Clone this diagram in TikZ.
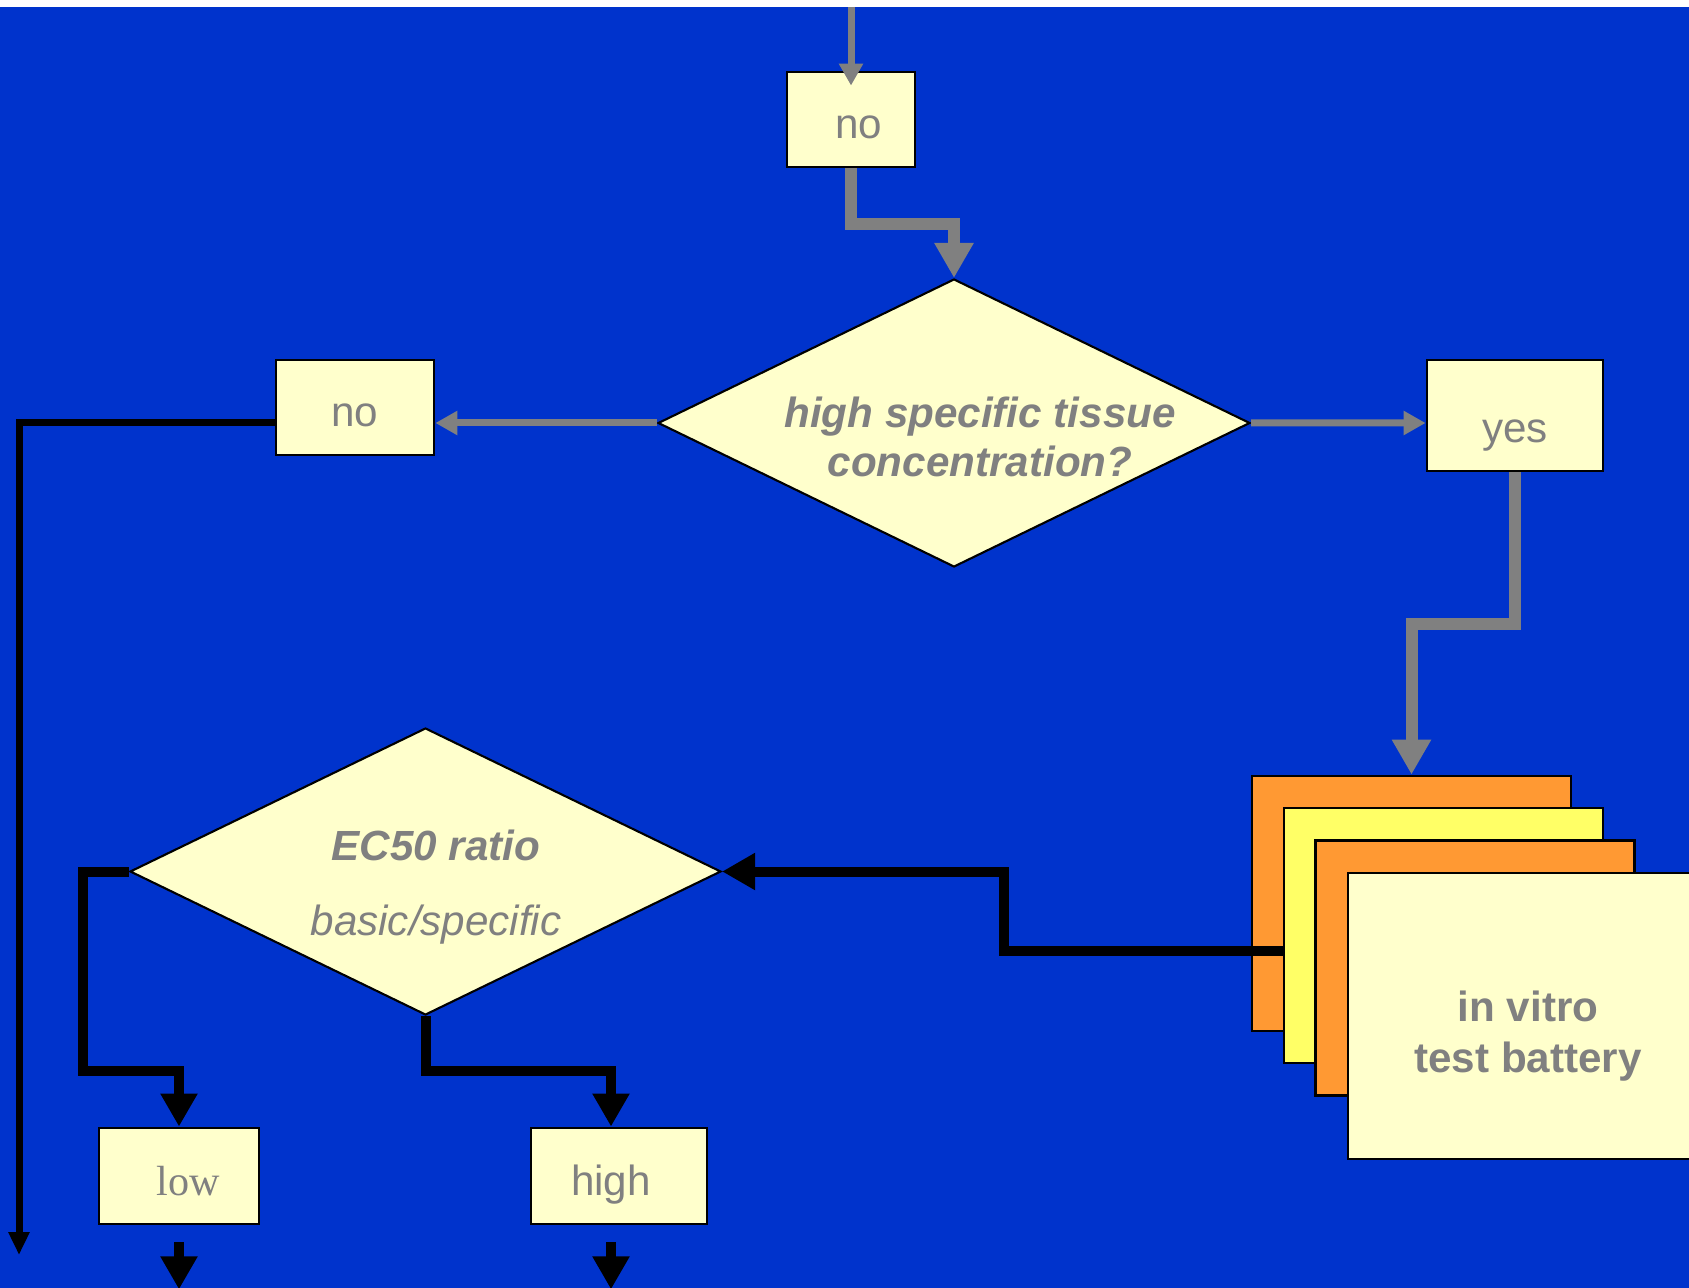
\documentclass[tikz,border=0pt]{standalone}
\usepackage{xcolor}
\usepackage{fontspec}
\setmainfont{Liberation Sans}
\newfontfamily\serifrm{Liberation Serif}
\usepackage{tikz}
\usetikzlibrary{shapes.geometric, arrows.meta, positioning, calc}
\definecolor{bgblue}{RGB}{0,51,204}
\definecolor{boxcream}{RGB}{255,255,204}
\definecolor{txtgray}{RGB}{128,128,128}
\definecolor{cardorange}{RGB}{255,153,51}
\definecolor{cardyellow}{RGB}{255,255,102}
\tikzset{
  answer/.style={rectangle, draw=black, fill=boxcream, line width=0.8pt,
    text=txtgray, font=\fontsize{12}{14}\selectfont, inner sep=0pt,
    text height=11pt, text depth=0pt},
  decision/.style={diamond, draw=black, fill=boxcream, line width=0.6pt, inner sep=0pt},
  qtext/.style={text=txtgray, align=center, inner sep=0pt,
    font=\fontsize{12}{14}\selectfont\bfseries\itshape},
  cardtext/.style={text=txtgray, align=center, inner sep=0pt,
    font=\fontsize{12}{14.6}\selectfont\bfseries},
  card/.style={rectangle, draw=black, line width=0.8pt,
    minimum width=3.19cm, minimum height=2.55cm},
  grayarrow/.style={-{Triangle[width=0.23cm,length=0.22cm]}, line width=0.07cm, color=txtgray},
  grayflow/.style={-{Triangle[width=0.37cm,length=0.35cm]}, line width=0.12cm, color=txtgray},
  blackflow/.style={-{Triangle[width=0.35cm,length=0.33cm]}, line width=0.10cm, color=black},
  blackarrow/.style={-{Triangle[width=0.2cm,length=0.23cm]}, line width=0.07cm, color=black}
}

\begin{document}
\begin{tikzpicture}
  \path[use as bounding box, clip] (0,0) rectangle (16.89,-12.88);
  \fill[white] (0,0) rectangle (16.89,-0.07);
  \fill[bgblue] (0,-0.07) rectangle (16.89,-12.88);

  % first question
  \node[answer, minimum width=1.28cm, minimum height=0.95cm] (topno) at (8.51,-1.195) {\hspace*{0.15cm}no};
  \node[decision, minimum width=5.92cm, minimum height=2.88cm] (tissue) at (9.54,-4.23) {};
  \node[qtext] (tissuetxt) at (9.80,-4.37) {high specific tissue\\concentration?};
  \node[answer, minimum width=1.58cm, minimum height=0.95cm] (leftno) at (3.55,-4.075) {no};
  \node[answer, minimum width=1.76cm, minimum height=1.11cm, text height=15.3pt] (yes) at (15.15,-4.155) {yes};

  % test battery
  \node[card, fill=cardorange] (card1) at (14.115,-9.035) {};
  \node[card, fill=cardyellow] (card2) at (14.435,-9.355) {};
  \node[card, fill=cardorange] (card3) at (14.75,-9.68) {};
  \node[card, fill=boxcream, minimum width=3.6cm, minimum height=2.86cm] (battery) at (15.28,-10.16) {};
  \node[cardtext] (batterytxt) at (15.28,-10.36) {in vitro\\test battery};

  % second question
  \node[decision, minimum width=5.91cm, minimum height=2.87cm] (ec50) at (4.255,-8.715) {};
  \node[qtext] (ec50txt) at (4.36,-8.87) {EC50 ratio\\[7.5pt]{\mdseries basic/specific}};
  \node[answer, font=\serifrm\fontsize{12}{14}\selectfont, minimum width=1.6cm, minimum height=0.96cm] (low) at (1.79,-11.76) {\hspace*{0.18cm}low};
  \node[answer, minimum width=1.76cm, minimum height=0.96cm] (high) at (6.19,-11.76) {high\hspace*{0.16cm}};

  \coordinate (topin) at (8.51,-0.07);
  \coordinate (leftend) at (0.19,-12.55);

  \draw[grayarrow] (topin) -- ([yshift=-0.15cm]topno.north);
  \draw[grayflow] (topno.south) -- ++(0,-0.56) -| (tissue.north);
  \draw[grayarrow] (tissue.west) -- ([yshift=-0.155cm]leftno.east);
  \draw[grayarrow] (tissue.east) -- ([yshift=-0.075cm]yes.west);
  \draw[grayflow] (yes.south) -- ++(0,-1.52) -| (card1.north);
  \draw[blackflow] ([yshift=-0.155cm]card2.west) -| ([xshift=2.82cm]ec50.east) -- (ec50.east);
  \draw[blackflow] (ec50.west) -| ([xshift=-0.96cm,yshift=0.56cm]low.north) -| (low.north);
  \draw[blackflow] (ec50.south) |- ([xshift=-0.08cm,yshift=0.56cm]high.north) -- ([xshift=-0.08cm]high.north);
  \draw[blackarrow] ([yshift=-0.155cm]leftno.west) -| (leftend);
  \draw[blackflow] ([yshift=-0.17cm]low.south) -- ([yshift=-0.64cm]low.south);
  \draw[blackflow] ([xshift=-0.08cm,yshift=-0.17cm]high.south) -- ([xshift=-0.08cm,yshift=-0.64cm]high.south);
\end{tikzpicture}
\end{document}
